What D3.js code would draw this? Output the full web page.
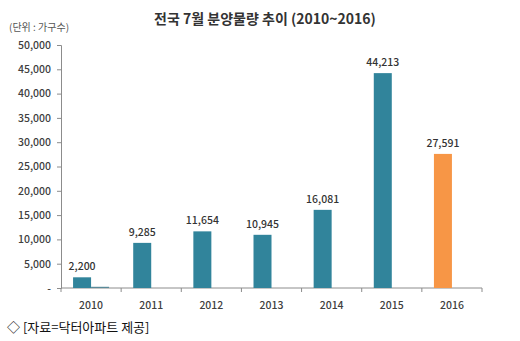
<!DOCTYPE html>
<html><head><meta charset="utf-8">
<script src="https://cdn.jsdelivr.net/npm/d3@7"></script>
<style>body{margin:0;background:#fff;}svg{display:block;}</style>
</head><body>
<svg id="c" width="520" height="341"></svg>
<script>
const years = ["2010","2011","2012","2013","2014","2015","2016"];
const values = [2200, 9285, 11654, 10945, 16081, 44213, 27591];
const secondValues = [250, 0, 0, 0, 0, 0, 0];
const barColors = ["#31849b","#31849b","#31849b","#31849b","#31849b","#31849b","#f79646"];
const yTicks = [0,5000,10000,15000,20000,25000,30000,35000,40000,45000,50000];
const title = "전국 7월 분양물량 추이 (2010~2016)";
const unitText = "(단위 : 가구수)";
const sourceText = "◇ [자료=닥터아파트 제공]";

const svg = d3.select("#c");
const font = "'Noto Sans CJK KR','Malgun Gothic',sans-serif";
const mLeft = 61, mRight = 482, mTop = 45, mBottom = 288;

const x = d3.scaleBand().domain(years).range([mLeft, mRight]).padding(0);
const y = d3.scaleLinear().domain([0, 50000]).range([mBottom, mTop]);
const fmt = d3.format(",");

// title
svg.append("text").attr("x", 265).attr("y", 24).attr("text-anchor","middle")
  .attr("font-family", font).attr("font-size", 14).attr("font-weight","bold").attr("fill","#333")
  .text(title);
svg.append("text").attr("x", 9).attr("y", 31)
  .attr("font-family", font).attr("font-size", 10).attr("fill","#555")
  .text(unitText);

// y axis
const yAxis = d3.axisLeft(y).tickValues(yTicks).tickSize(4).tickPadding(6)
  .tickFormat(d => d === 0 ? "-" : fmt(d));
const gy = svg.append("g").attr("transform", `translate(${mLeft},0)`).call(yAxis);
gy.select(".domain").attr("stroke","#8c8c8c");
gy.selectAll(".tick line").attr("stroke","#8c8c8c");
gy.selectAll(".tick text").attr("font-family", font).attr("font-size", 10.5).attr("font-weight", 500).attr("fill","#404040");

// x axis
const gx = svg.append("g").attr("transform", `translate(0,${mBottom})`);
gx.append("line").attr("x1", mLeft).attr("x2", mRight).attr("stroke","#8c8c8c");
const bounds = years.map(d => x(d)).concat([mRight]);
gx.selectAll("line.tk").data(bounds).join("line").attr("class","tk")
  .attr("x1", d => d).attr("x2", d => d).attr("y1", 0).attr("y2", 4).attr("stroke","#8c8c8c");
gx.selectAll("text").data(years).join("text")
  .attr("x", d => x(d) + x.bandwidth()/2).attr("y", 21).attr("text-anchor","middle")
  .attr("font-family", font).attr("font-size", 10.5).attr("font-weight", 500).attr("fill","#404040")
  .text(d => d);

const bw = 18;
// main bars
svg.selectAll("rect.main").data(years).join("rect").attr("class","main")
  .attr("x", d => x(d) + x.bandwidth()/2 - bw)
  .attr("width", bw)
  .attr("y", (d,i) => y(values[i]))
  .attr("height", (d,i) => mBottom - y(values[i]))
  .attr("fill", (d,i) => barColors[i]);
// second series (tiny)
svg.selectAll("rect.sec").data(years.filter((d,i)=>secondValues[i]>0)).join("rect").attr("class","sec")
  .attr("x", d => x(d) + x.bandwidth()/2)
  .attr("width", bw)
  .attr("y", d => y(secondValues[years.indexOf(d)]))
  .attr("height", d => mBottom - y(secondValues[years.indexOf(d)]))
  .attr("fill", "#5a8a99");
// labels
svg.selectAll("text.val").data(years).join("text").attr("class","val")
  .attr("x", d => x(d) + x.bandwidth()/2 - bw/2)
  .attr("y", (d,i) => y(values[i]) - 7)
  .attr("text-anchor","middle")
  .attr("font-family", font).attr("font-size", 10.5).attr("font-weight", 500).attr("fill","#333")
  .text((d,i) => fmt(values[i]));

// source
svg.append("text").attr("x", 7).attr("y", 332)
  .attr("font-family", font).attr("font-size", 13).attr("fill","#111")
  .text(sourceText);
</script>
</body></html>
